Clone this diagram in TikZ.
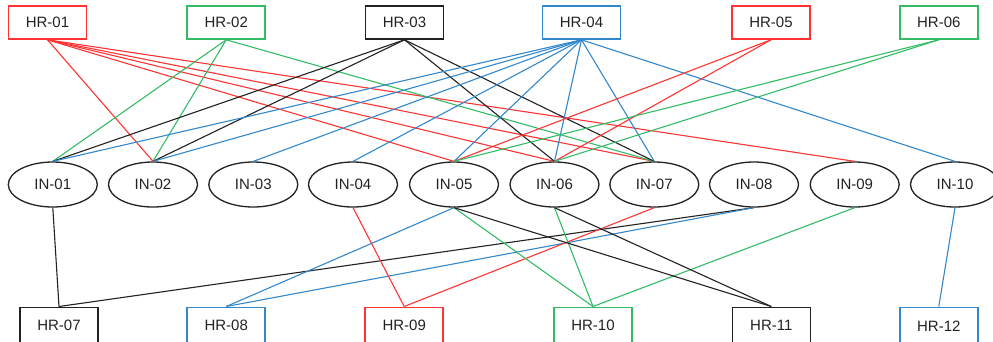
\documentclass[tikz,border=0pt]{standalone}
\usepackage{fontspec}
\setmainfont{Liberation Sans}
\usetikzlibrary{shapes.geometric}
\definecolor{hrred}{RGB}{255,51,51}
\definecolor{hrgreen}{RGB}{51,187,102}
\definecolor{hrblue}{RGB}{51,136,204}
\definecolor{hrdark}{RGB}{34,34,34}
\begin{document}
\begin{tikzpicture}[x=1pt,y=-1pt,
  hrbox/.style={draw, fill=white, line width=1.6pt, minimum width=78pt, minimum height=33pt,
    inner sep=0pt, font=\fontsize{15}{18}\selectfont, text=hrdark},
  lowbox/.style={hrbox, minimum height=37pt},
  inell/.style={draw=hrdark, fill=white, ellipse, line width=1.3pt, minimum width=89pt,
    minimum height=45pt, inner sep=0pt, font=\fontsize{15}{18}\selectfont, text=hrdark},
  link/.style={line width=1.1pt},
]
\useasboundingbox (0,0) rectangle (993,341);

% top row of HR boxes
\node[hrbox, draw=hrred]   (hr01) at (47.5,22.5)  {HR-01};
\node[hrbox, draw=hrgreen] (hr02) at (226.2,22.5) {HR-02};
\node[hrbox, draw=hrdark]  (hr03) at (404.5,22.5) {HR-03};
\node[hrbox, draw=hrblue]  (hr04) at (581.5,22.5) {HR-04};
\node[hrbox, draw=hrred]   (hr05) at (771,22.5)   {HR-05};
\node[hrbox, draw=hrgreen] (hr06) at (938.8,22.5) {HR-06};

% middle row of IN ellipses
\node[inell] (in01) at (52.8,184.5)  {IN-01};
\node[inell] (in02) at (153,184.5)   {IN-02};
\node[inell] (in03) at (253.3,184.5) {IN-03};
\node[inell] (in04) at (353,184.5)   {IN-04};
\node[inell] (in05) at (454,184.5)   {IN-05};
\node[inell] (in06) at (554.5,184.5) {IN-06};
\node[inell] (in07) at (654.3,184.5) {IN-07};
\node[inell] (in08) at (754,184.5)   {IN-08};
\node[inell] (in09) at (854.7,184.5) {IN-09};
\node[inell] (in10) at (955,184.5)   {IN-10};

% bottom row of HR boxes (their lower edge runs past the page)
\node[lowbox, draw=hrdark]  (hr07) at (59,325.8)    {HR-07};
\node[lowbox, draw=hrblue]  (hr08) at (226.2,325.8) {HR-08};
\node[lowbox, draw=hrred]   (hr09) at (404.2,325.8) {HR-09};
\node[lowbox, draw=hrgreen] (hr10) at (593,325.8)   {HR-10};
\node[lowbox, draw=hrdark]  (hr11) at (771.3,325.8) {HR-11};
\node[lowbox, draw=hrblue]  (hr12) at (938.8,325.8) {HR-12};

% links from the top row
\foreach \t in {in02,in05,in06,in07,in09}
  \draw[link, hrred] (hr01.south) -- (\t.north);
\foreach \t in {in01,in02,in07}
  \draw[link, hrgreen] (hr02.south) -- (\t.north);
\foreach \t in {in01,in02,in06,in07}
  \draw[link, hrdark] (hr03.south) -- (\t.north);
\foreach \t in {in01,in02,in03,in04,in05,in06,in07,in10}
  \draw[link, hrblue] (hr04.south) -- (\t.north);
\foreach \t in {in05,in06}
  \draw[link, hrred] (hr05.south) -- (\t.north);
\foreach \t in {in05,in06}
  \draw[link, hrgreen] (hr06.south) -- (\t.north);

% links to the bottom row
\draw[link, hrdark]  (in01.south) -- (hr07.north);
\draw[link, hrdark]  (in08.south) -- (hr07.north);
\draw[link, hrblue]  (in05.south) -- (hr08.north);
\draw[link, hrblue]  (in08.south) -- (hr08.north);
\draw[link, hrred]   (in04.south) -- (hr09.north);
\draw[link, hrred]   (in07.south) -- (hr09.north);
\draw[link, hrgreen] (in05.south) -- (hr10.north);
\draw[link, hrgreen] (in06.south) -- (hr10.north);
\draw[link, hrgreen] (in09.south) -- (hr10.north);
\draw[link, hrdark]  (in05.south) -- (hr11.north);
\draw[link, hrdark]  (in06.south) -- (hr11.north);
\draw[link, hrblue]  (in10.south) -- (hr12.north);
\end{tikzpicture}
\end{document}
